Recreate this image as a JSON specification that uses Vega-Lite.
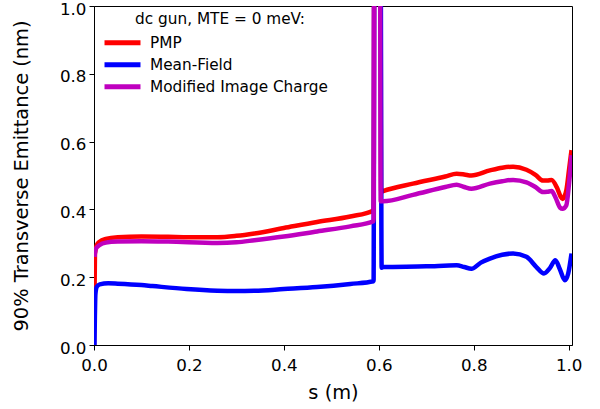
{
  "$schema": "https://vega.github.io/schema/vega-lite/v6.json",
  "width": 478,
  "height": 339,
  "autosize": {"type": "none"},
  "padding": {"left": 94, "top": 6, "right": 28, "bottom": 64},
  "background": "white",
  "config": {
    "font": "DejaVu Sans",
    "view": {"stroke": "black", "strokeWidth": 1},
    "axis": {
      "grid": false,
      "domainColor": "black",
      "tickColor": "black",
      "labelColor": "black",
      "titleColor": "black",
      "labelFont": "DejaVu Sans",
      "titleFont": "DejaVu Sans",
      "labelFontSize": 16.7,
      "titleFontSize": 19.4,
      "titleFontWeight": "normal",
      "tickSize": 5,
      "labelPadding": 3
    },
    "legend": {
      "labelFont": "DejaVu Sans",
      "titleFont": "DejaVu Sans",
      "labelFontSize": 15.3,
      "titleFontSize": 15.3,
      "titleFontWeight": "normal",
      "labelColor": "black",
      "titleColor": "black"
    }
  },
  "datasets": {
    "curves": [
      {"series": "PMP", "s": 0.0, "v": 0.0},
      {"series": "PMP", "s": 0.002, "v": 0.27},
      {"series": "PMP", "s": 0.006, "v": 0.295},
      {"series": "PMP", "s": 0.012, "v": 0.305},
      {"series": "PMP", "s": 0.025, "v": 0.313},
      {"series": "PMP", "s": 0.05, "v": 0.318},
      {"series": "PMP", "s": 0.1, "v": 0.32},
      {"series": "PMP", "s": 0.156, "v": 0.319},
      {"series": "PMP", "s": 0.2, "v": 0.318},
      {"series": "PMP", "s": 0.26, "v": 0.318},
      {"series": "PMP", "s": 0.3, "v": 0.322},
      {"series": "PMP", "s": 0.338, "v": 0.329},
      {"series": "PMP", "s": 0.4, "v": 0.345},
      {"series": "PMP", "s": 0.47, "v": 0.363},
      {"series": "PMP", "s": 0.54, "v": 0.379},
      {"series": "PMP", "s": 0.589, "v": 0.397},
      {"series": "PMP", "s": 0.591, "v": 1.6},
      {"series": "PMP", "s": 0.603, "v": 1.6},
      {"series": "PMP", "s": 0.605, "v": 0.452},
      {"series": "PMP", "s": 0.609, "v": 0.454},
      {"series": "PMP", "s": 0.672, "v": 0.476},
      {"series": "PMP", "s": 0.74, "v": 0.497},
      {"series": "PMP", "s": 0.764, "v": 0.505},
      {"series": "PMP", "s": 0.78, "v": 0.503},
      {"series": "PMP", "s": 0.795, "v": 0.5},
      {"series": "PMP", "s": 0.834, "v": 0.515},
      {"series": "PMP", "s": 0.86, "v": 0.523},
      {"series": "PMP", "s": 0.883, "v": 0.526},
      {"series": "PMP", "s": 0.911, "v": 0.517},
      {"series": "PMP", "s": 0.93, "v": 0.502},
      {"series": "PMP", "s": 0.946, "v": 0.485},
      {"series": "PMP", "s": 0.955, "v": 0.485},
      {"series": "PMP", "s": 0.964, "v": 0.487},
      {"series": "PMP", "s": 0.975, "v": 0.465},
      {"series": "PMP", "s": 0.983, "v": 0.438},
      {"series": "PMP", "s": 0.987, "v": 0.431},
      {"series": "PMP", "s": 0.995, "v": 0.456},
      {"series": "PMP", "s": 1.001, "v": 0.52},
      {"series": "PMP", "s": 1.006, "v": 0.575},

      {"series": "Mean-Field", "s": 0.001, "v": 0.0},
      {"series": "Mean-Field", "s": 0.003, "v": 0.15},
      {"series": "Mean-Field", "s": 0.006, "v": 0.172},
      {"series": "Mean-Field", "s": 0.012, "v": 0.179},
      {"series": "Mean-Field", "s": 0.03, "v": 0.182},
      {"series": "Mean-Field", "s": 0.05, "v": 0.181},
      {"series": "Mean-Field", "s": 0.1, "v": 0.177},
      {"series": "Mean-Field", "s": 0.123, "v": 0.174},
      {"series": "Mean-Field", "s": 0.195, "v": 0.165},
      {"series": "Mean-Field", "s": 0.26, "v": 0.16},
      {"series": "Mean-Field", "s": 0.3, "v": 0.159},
      {"series": "Mean-Field", "s": 0.338, "v": 0.16},
      {"series": "Mean-Field", "s": 0.4, "v": 0.165},
      {"series": "Mean-Field", "s": 0.47, "v": 0.171},
      {"series": "Mean-Field", "s": 0.54, "v": 0.18},
      {"series": "Mean-Field", "s": 0.589, "v": 0.188},
      {"series": "Mean-Field", "s": 0.591, "v": 1.6},
      {"series": "Mean-Field", "s": 0.603, "v": 1.6},
      {"series": "Mean-Field", "s": 0.606, "v": 0.228},
      {"series": "Mean-Field", "s": 0.609, "v": 0.23},
      {"series": "Mean-Field", "s": 0.7, "v": 0.232},
      {"series": "Mean-Field", "s": 0.764, "v": 0.235},
      {"series": "Mean-Field", "s": 0.78, "v": 0.23},
      {"series": "Mean-Field", "s": 0.795, "v": 0.225},
      {"series": "Mean-Field", "s": 0.815, "v": 0.243},
      {"series": "Mean-Field", "s": 0.834, "v": 0.255},
      {"series": "Mean-Field", "s": 0.86, "v": 0.266},
      {"series": "Mean-Field", "s": 0.883, "v": 0.27},
      {"series": "Mean-Field", "s": 0.911, "v": 0.26},
      {"series": "Mean-Field", "s": 0.932, "v": 0.23},
      {"series": "Mean-Field", "s": 0.948, "v": 0.211},
      {"series": "Mean-Field", "s": 0.96, "v": 0.226},
      {"series": "Mean-Field", "s": 0.972, "v": 0.25},
      {"series": "Mean-Field", "s": 0.981, "v": 0.225},
      {"series": "Mean-Field", "s": 0.992, "v": 0.191},
      {"series": "Mean-Field", "s": 0.999, "v": 0.211},
      {"series": "Mean-Field", "s": 1.006, "v": 0.27},

      {"series": "Modified Image Charge", "s": 0.001, "v": 0.26},
      {"series": "Modified Image Charge", "s": 0.004, "v": 0.284},
      {"series": "Modified Image Charge", "s": 0.012, "v": 0.295},
      {"series": "Modified Image Charge", "s": 0.025, "v": 0.302},
      {"series": "Modified Image Charge", "s": 0.05, "v": 0.305},
      {"series": "Modified Image Charge", "s": 0.1, "v": 0.306},
      {"series": "Modified Image Charge", "s": 0.156, "v": 0.305},
      {"series": "Modified Image Charge", "s": 0.26, "v": 0.301},
      {"series": "Modified Image Charge", "s": 0.3, "v": 0.303},
      {"series": "Modified Image Charge", "s": 0.338, "v": 0.309},
      {"series": "Modified Image Charge", "s": 0.4, "v": 0.32},
      {"series": "Modified Image Charge", "s": 0.47, "v": 0.335},
      {"series": "Modified Image Charge", "s": 0.54, "v": 0.35},
      {"series": "Modified Image Charge", "s": 0.589, "v": 0.365},
      {"series": "Modified Image Charge", "s": 0.591, "v": 1.6},
      {"series": "Modified Image Charge", "s": 0.602, "v": 1.6},
      {"series": "Modified Image Charge", "s": 0.604, "v": 0.424},
      {"series": "Modified Image Charge", "s": 0.609, "v": 0.424},
      {"series": "Modified Image Charge", "s": 0.672, "v": 0.443},
      {"series": "Modified Image Charge", "s": 0.74, "v": 0.466},
      {"series": "Modified Image Charge", "s": 0.764, "v": 0.473},
      {"series": "Modified Image Charge", "s": 0.78, "v": 0.466},
      {"series": "Modified Image Charge", "s": 0.795, "v": 0.461},
      {"series": "Modified Image Charge", "s": 0.834, "v": 0.476},
      {"series": "Modified Image Charge", "s": 0.86, "v": 0.483},
      {"series": "Modified Image Charge", "s": 0.883, "v": 0.487},
      {"series": "Modified Image Charge", "s": 0.911, "v": 0.48},
      {"series": "Modified Image Charge", "s": 0.93, "v": 0.466},
      {"series": "Modified Image Charge", "s": 0.946, "v": 0.451},
      {"series": "Modified Image Charge", "s": 0.955, "v": 0.452},
      {"series": "Modified Image Charge", "s": 0.964, "v": 0.454},
      {"series": "Modified Image Charge", "s": 0.972, "v": 0.436},
      {"series": "Modified Image Charge", "s": 0.982, "v": 0.405},
      {"series": "Modified Image Charge", "s": 0.987, "v": 0.402},
      {"series": "Modified Image Charge", "s": 0.995, "v": 0.412},
      {"series": "Modified Image Charge", "s": 1.001, "v": 0.48},
      {"series": "Modified Image Charge", "s": 1.006, "v": 0.56}
    ]
  },
  "data": {"name": "curves"},
  "encoding": {
    "x": {
      "field": "s", "type": "quantitative",
      "scale": {"domain": [0, 1.007], "nice": false, "zero": false},
      "axis": {"values": [0, 0.2, 0.4, 0.6, 0.8, 1.0], "format": ".1f", "title": "s (m)", "titlePadding": 10, "labelFlush": false, "labelPadding": 7}
    },
    "y": {
      "field": "v", "type": "quantitative",
      "scale": {"domain": [0, 1], "nice": false},
      "axis": {"values": [0, 0.2, 0.4, 0.6, 0.8, 1.0], "format": ".1f", "title": "90% Transverse Emittance (nm)", "titlePadding": 28, "labelFlush": false, "labelOffset": 3}
    },
    "color": {
      "field": "series", "type": "nominal",
      "scale": {"domain": ["PMP", "Mean-Field", "Modified Image Charge"], "range": ["#ff0000", "#0000ff", "#bf00bf"]},
      "legend": {
        "title": "dc gun, MTE = 0 meV:",
        "orient": "none",
        "legendX": 19,
        "legendY": 6,
        "titleAnchor": "middle",
        "titleAlign": "center",
        "titlePadding": 6,
        "symbolType": "M-2.57,0H2.57",
        "symbolSize": 196,
        "symbolStrokeWidth": 5,
        "labelOffset": 18,
        "labelLimit": 400,
        "rowPadding": 1,
        "padding": 0
      }
    }
  },
  "layer": [
    {"transform": [{"filter": "datum.series === 'PMP'"}], "mark": {"type": "line", "strokeWidth": 4.5, "clip": true, "strokeJoin": "round", "interpolate": "monotone"}},
    {"transform": [{"filter": "datum.series === 'Mean-Field'"}], "mark": {"type": "line", "strokeWidth": 4.5, "clip": true, "strokeJoin": "round", "interpolate": "monotone"}},
    {"transform": [{"filter": "datum.series === 'Modified Image Charge'"}], "mark": {"type": "line", "strokeWidth": 4.5, "clip": true, "strokeJoin": "round", "interpolate": "monotone"}}
  ]
}
